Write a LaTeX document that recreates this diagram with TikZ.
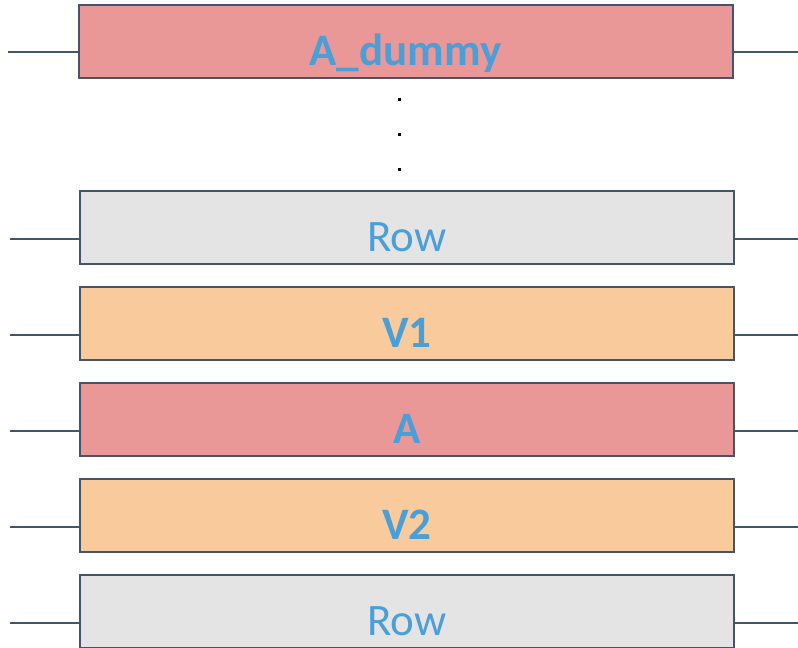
\documentclass[tikz,border=0pt]{standalone}
\usepackage{fontspec}
\setmainfont{Carlito}
\definecolor{edge}{HTML}{44546A}
\definecolor{rose}{HTML}{E99797}
\definecolor{silver}{HTML}{E4E4E4}
\definecolor{peach}{HTML}{F8CA9C}
\definecolor{label}{HTML}{4A9FD8}
\tikzset{
  layer/.style={draw=edge, line width=2pt, minimum width=654pt, minimum height=73pt,
    inner sep=0pt, text height=47pt, text depth=0pt, text=label, font=\fontsize{45}{45}\selectfont},
  bold/.style={font=\fontsize{45}{45}\selectfont\bfseries},
  wire/.style={draw=edge, line width=2pt},
  dot/.style={fill=black, inner sep=0pt, minimum size=3pt}
}
\begin{document}
\begin{tikzpicture}[x=1pt,y=-1pt]
\useasboundingbox (0,0) rectangle (798,648);
% stacked layers
\node[layer, bold, fill=rose]   (top) at (405.5,41.5)  {A\_dummy};
\node[layer, fill=silver]       (r1)  at (407,227.5)   {Row};
\node[layer, bold, fill=peach]  (v1)  at (407,323.5)   {V1};
\node[layer, bold, fill=rose]   (a)   at (407,419.5)   {A};
\node[layer, bold, fill=peach]  (v2)  at (407,515.5)   {V2};
\node[layer, fill=silver]       (r2)  at (407,611.5)   {Row};
% ellipsis between the top layer and the rest
\node[dot] (d1) at (399,99) {};
\node[dot] (d2) at (399,134) {};
\node[dot] (d3) at (399,169) {};
% side wires
\coordinate (tl) at (8,52);   \coordinate (tr) at (798,52);
\coordinate (r1l) at (10,239);  \coordinate (r1r) at (798,239);
\coordinate (v1l) at (10,335);  \coordinate (v1r) at (798,335);
\coordinate (al) at (10,431);   \coordinate (ar) at (798,431);
\coordinate (v2l) at (10,527);  \coordinate (v2r) at (798,527);
\coordinate (r2l) at (10,623);  \coordinate (r2r) at (798,623);
\foreach \n/\l/\r in {top/tl/tr, r1/r1l/r1r, v1/v1l/v1r, a/al/ar, v2/v2l/v2r, r2/r2l/r2r}{
  \draw[wire] (\l) -- (\l -| \n.west);
  \draw[wire] (\r -| \n.east) -- (\r);
}
\end{tikzpicture}
\end{document}
